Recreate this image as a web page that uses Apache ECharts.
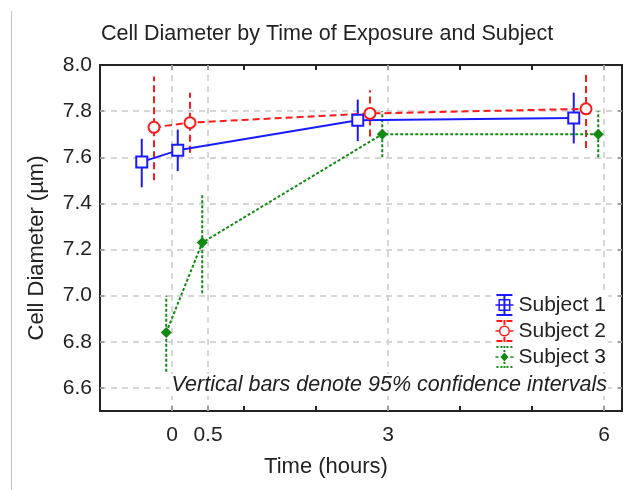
<!DOCTYPE html>
<html><head><meta charset="utf-8">
<script src="https://cdn.jsdelivr.net/npm/echarts@6/dist/echarts.min.js"></script>
<style>html,body{margin:0;padding:0;background:#fff}#c{width:630px;height:490px}</style>
</head><body><div id="c"></div><script>
// ---- data ----
const times = [0, 0.5, 3, 6];
const subjects = ['Subject 1', 'Subject 2', 'Subject 3'];
const s1Mean = [7.58, 7.63, 7.76, 7.77];
const s1Low  = [7.47, 7.54, 7.67, 7.66];
const s1High = [7.68, 7.72, 7.85, 7.88];
const s2Mean = [7.73, 7.75, 7.79, 7.81];
const s2Low  = [7.50, 7.62, 7.69, 7.64];
const s2High = [7.95, 7.88, 7.89, 7.97];
const s3Mean = [6.84, 7.23, 7.70, 7.70];
const s3Low  = [6.67, 7.01, 7.60, 7.60];
const s3High = [7.00, 7.44, 7.80, 7.80];
const xTickValues = [0, 0.5, 1, 2, 3, 4, 5, 6];
const xLabelValues = [0, 0.5, 3, 6];
const yTickValues = [6.6, 6.8, 7.0, 7.2, 7.4, 7.6, 7.8, 8.0];

// ---- style ----
const FONT = "'Liberation Sans', Arial, sans-serif";
const TXT = '#222';
const styles = [
  { color: '#1a1aff', dash: 'solid', jitter: -0.42, symbol: 'emptyRect', size: 11,
    icon: 'path://M1 0H17V2H1Z M1 20H17V22H1Z M8 0H10V22H8Z M3 5H15V17H3Z M4.5 6.5V15.5H13.5V6.5Z M0 10.2H18V11.8H0Z' },
  { color: '#ff1a1a', dash: [7, 4], jitter: -0.25, symbol: 'emptyCircle', size: 11,
    icon: 'path://M1 0H7V2H1Z M11 0H17V2H11Z M1 20H7V22H1Z M11 20H17V22H11Z M8 0H10V5H8Z M8 17H10V22H8Z M3.5 11A5.5 5.5 0 1 1 14.5 11A5.5 5.5 0 1 1 3.5 11Z M5 11A4 4 0 1 0 13 11A4 4 0 1 0 5 11Z M0 10.2H3.5V11.8H0Z M14.5 10.2H18V11.8H14.5Z' },
  { color: '#128a12', dash: [3, 2], jitter: -0.08, symbol: 'diamond', size: 11,
    icon: 'path://M1 0H3V2H1Z M5 0H7V2H5Z M11 0H13V2H11Z M15 0H17V2H15Z M1 20H3V22H1Z M5 20H7V22H5Z M11 20H13V22H11Z M15 20H17V22H15Z M8 0H10V2H8Z M8 4H10V6H8Z M8 16H10V18H8Z M8 20H10V22H8Z M9 6.5L13 11L9 15.5L5 11Z M0 10.2H3V11.8H0Z M15 10.2H18V11.8H15Z' }
];
const means = [s1Mean, s2Mean, s3Mean];
const lows = [s1Low, s2Low, s3Low];
const highs = [s1High, s2High, s3High];

const series = [];
// grid lines (dashed) via markLine on a helper series; skip the value at the top frame
series.push({
  type: 'line', name: 'grid', data: [], silent: true,
  markLine: {
    silent: true, z: 1, symbol: ['none', 'none'], label: { show: false },
    lineStyle: { type: [6, 5], color: '#c9c9c9', width: 1.5 },
    emphasis: { disabled: true },
    data: times.map(t => ({ xAxis: t })).concat(yTickValues.filter(v => v < 8.0).map(v => ({ yAxis: v })))
  }
});
subjects.forEach((name, k) => {
  const st = styles[k];
  series.push({
    type: 'custom', name: name + ' CI', z: 2, silent: true,
    encode: { x: 0, y: [1, 2] },
    data: times.map((t, i) => [t + st.jitter, lows[k][i], highs[k][i]]),
    renderItem: function (params, api) {
      const x = api.value(0);
      const p1 = api.coord([x, api.value(1)]);
      const p2 = api.coord([x, api.value(2)]);
      return { type: 'line', shape: { x1: p1[0], y1: p1[1], x2: p2[0], y2: p2[1] },
        style: { stroke: st.color, lineWidth: 2, lineDash: st.dash === 'solid' ? null : st.dash } };
    }
  });
  series.push({
    type: 'line', name: name, z: 3,
    data: times.map((t, i) => [t + st.jitter, means[k][i]]),
    symbol: st.symbol, symbolSize: st.size, showSymbol: true,
    lineStyle: { color: st.color, width: 2, type: st.dash },
    itemStyle: { color: st.color, borderWidth: 1.6 },
    emphasis: { disabled: true }
  });
});

const axisLineStyle = { color: '#222', width: 2 };
const chart = echarts.init(document.getElementById('c'), null, { renderer: 'canvas' });
chart.setOption({
  animation: false,
  backgroundColor: '#fff',
  textStyle: { fontFamily: FONT },
  title: {
    text: 'Cell Diameter by Time of Exposure and Subject',
    left: 96, top: 18,
    textStyle: { fontFamily: FONT, fontSize: 21.5, fontWeight: 'normal', color: TXT }
  },
  grid: { left: 100, right: 8, top: 65, bottom: 79, containLabel: false, outerBoundsMode: 'none' },
  legend: {
    orient: 'vertical', right: 22, top: 292, padding: 2, itemGap: 4,
    itemWidth: 18, itemHeight: 22, backgroundColor: '#fff',
    selectedMode: false,
    textStyle: { fontFamily: FONT, fontSize: 21, color: TXT },
    data: subjects.map((n, k) => ({ name: n, icon: styles[k].icon,
      itemStyle: { color: styles[k].color, borderWidth: 0 } }))
  },
  xAxis: [
    { type: 'value', min: -1, max: 6.25, position: 'bottom',
      name: 'Time (hours)', nameLocation: 'middle', nameGap: 45,
      nameTextStyle: { fontFamily: FONT, fontSize: 22, color: TXT, padding: [0, 70, 0, 0] },
      axisLine: { show: true, onZero: false, lineStyle: axisLineStyle },
      axisTick: { show: true, inside: true, length: 5, customValues: xTickValues, lineStyle: { color: '#222', width: 2 } },
      axisLabel: { show: true, customValues: xLabelValues, margin: 14, fontFamily: FONT, fontSize: 21, color: TXT,
        formatter: v => String(v) },
      splitLine: { show: false } },
    { type: 'value', min: -1, max: 6.25, position: 'top',
      axisLine: { show: true, onZero: false, lineStyle: axisLineStyle },
      axisTick: { show: true, inside: true, length: 5, customValues: xTickValues, lineStyle: { color: '#222', width: 2 } },
      axisLabel: { show: false }, splitLine: { show: false } }
  ],
  yAxis: [
    { type: 'value', min: 6.5, max: 8.0, position: 'left',
      name: 'Cell Diameter (µm)', nameLocation: 'middle', nameGap: 52,
      nameTextStyle: { fontFamily: FONT, fontSize: 22, color: TXT, padding: [0, 20, 0, 0] },
      axisLine: { show: true, onZero: false, lineStyle: axisLineStyle },
      axisTick: { show: true, inside: true, length: 4, customValues: yTickValues, lineStyle: { color: '#222', width: 2 } },
      axisLabel: { show: true, customValues: yTickValues, margin: 8, fontFamily: FONT, fontSize: 21, color: TXT,
        formatter: v => v.toFixed(1) },
      splitLine: { show: false } },
    { type: 'value', min: 6.5, max: 8.0, position: 'right',
      axisLine: { show: true, onZero: false, lineStyle: axisLineStyle },
      axisTick: { show: true, inside: true, length: 4, customValues: yTickValues, lineStyle: { color: '#222', width: 2 } },
      axisLabel: { show: false }, splitLine: { show: false } }
  ],
  graphic: [
    { type: 'line', z: 100, silent: true, shape: { x1: 11.5, y1: 11, x2: 11.5, y2: 490 },
      style: { stroke: '#c4c4c4', lineWidth: 1 } },
    { type: 'text', z: 100, silent: true, x: 608, y: 385,
      style: { text: 'Vertical bars denote 95% confidence intervals', font: 'italic 21.5px ' + FONT,
        fill: TXT, align: 'right', verticalAlign: 'middle', backgroundColor: '#fff', padding: [0, 1, 0, 2] } }
  ],
  series: series
});
</script></body></html>
